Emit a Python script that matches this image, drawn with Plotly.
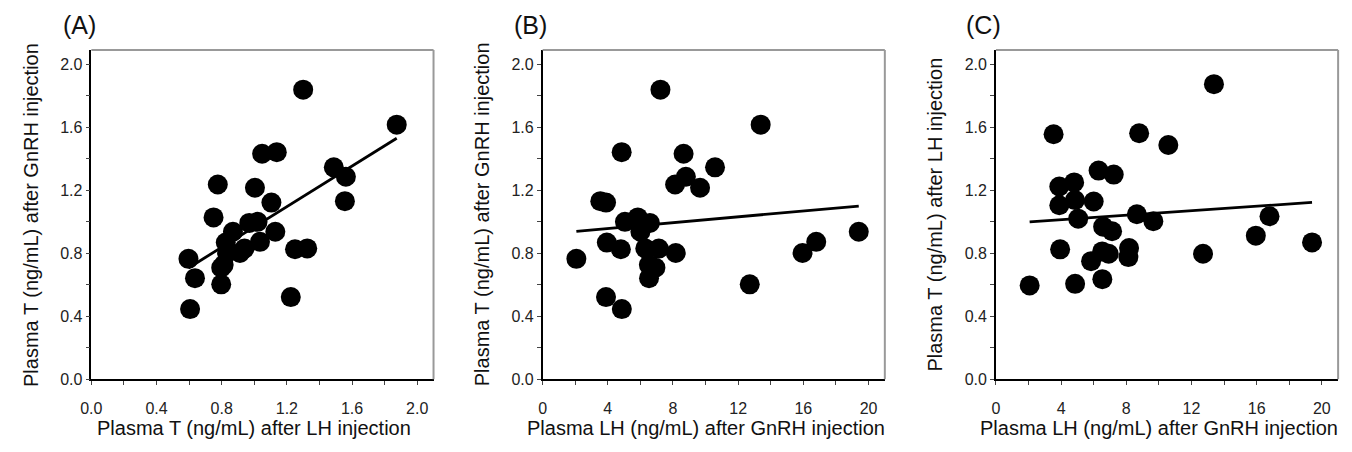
import numpy as np
import plotly.graph_objects as go

# Per-animal values (same animals in all three panels)
lh_after_gnrh = [2.07, 3.54, 3.89, 3.94, 3.89, 4.80, 4.85, 4.86, 5.05, 5.84,
                 6.00, 6.30, 6.53, 6.58, 6.52, 6.92, 7.13, 7.23, 8.13, 8.17,
                 8.65, 8.79, 9.66, 10.58, 12.71, 13.38, 15.95, 16.79, 19.40]
t_after_lh = [0.596, 1.556, 1.105, 0.825, 1.224, 1.250, 1.138, 0.606, 1.020, 0.750,
              1.129, 1.325, 0.636, 0.969, 0.812, 0.797, 0.940, 1.300, 0.776, 0.833,
              1.048, 1.562, 1.004, 1.488, 0.797, 1.874, 0.912, 1.035, 0.869]
t_after_gnrh = [0.765, 1.131, 1.122, 0.868, 0.522, 0.826, 1.442, 0.446, 1.000, 1.028,
                0.937, 0.831, 0.642, 0.993, 0.727, 0.709, 0.830, 1.839, 1.237, 0.802,
                1.432, 1.286, 1.216, 1.346, 0.603, 1.617, 0.802, 0.873, 0.937]

panel_labels = ["(A)", "(B)", "(C)"]
x_titles = ["Plasma T (ng/mL) after LH injection",
            "Plasma LH (ng/mL) after GnRH injection",
            "Plasma LH (ng/mL) after GnRH injection"]
y_titles = ["Plasma T (ng/mL) after GnRH injection",
            "Plasma T (ng/mL) after GnRH injection",
            "Plasma T (ng/mL) after LH injection"]

panels = [
    (t_after_lh, t_after_gnrh),
    (lh_after_gnrh, t_after_gnrh),
    (lh_after_gnrh, t_after_lh),
]

W, H = 1352, 452
x_px = [(81, 426), (536, 881), (993, 1338)]
y_px = (51, 387)
x_ranges = [[0, 2.1], [0, 21], [0, 21]]
x_dtick = [0.4, 4, 4]
x_minor = [0.2, 2, 2]
x_fmt = [".1f", "d", "d"]
x_title_center = [1.0, 10, 10]

FONT = "Arial, Liberation Sans, sans-serif"

fig = go.Figure()
layout = dict(width=W, height=H, margin=dict(l=0, r=0, t=0, b=0),
              paper_bgcolor="white", plot_bgcolor="white", showlegend=False)
annotations = []
shapes = []

for i, (xs, ys) in enumerate(panels):
    n = "" if i == 0 else str(i + 1)
    xa, ya = "x" + n, "y" + n
    xs_a = np.array(xs)
    ys_a = np.array(ys)
    fig.add_trace(go.Scatter(x=xs_a, y=ys_a, mode="markers", xaxis=xa, yaxis=ya,
                             marker=dict(size=20, color="black", line=dict(width=0))))
    slope, intercept = np.polyfit(xs_a, ys_a, 1)
    lx = np.array([xs_a.min(), xs_a.max()])
    fig.add_trace(go.Scatter(x=lx, y=slope * lx + intercept, mode="lines",
                             xaxis=xa, yaxis=ya, line=dict(color="black", width=2.8)))

    d0, d1 = x_px[i][0] / W, x_px[i][1] / W
    yd0, yd1 = (H - y_px[1]) / H, (H - y_px[0]) / H
    layout["xaxis" + n] = dict(
        domain=[d0, d1], range=x_ranges[i], anchor=ya, dtick=x_dtick[i], tick0=0,
        tickformat=x_fmt[i], showgrid=False, zeroline=False, showline=True,
        linecolor="black", linewidth=1.5, ticks="outside", ticklen=4, tickwidth=1,
        tickcolor="#444", ticklabelstandoff=10,
        minor=dict(dtick=x_minor[i], ticks="outside", ticklen=4, tickcolor="#444", showgrid=False),
        tickfont=dict(family=FONT, size=16, color="#222"))
    layout["yaxis" + n] = dict(
        domain=[yd0, yd1], range=[0, 2.091], anchor=xa, dtick=0.4, tick0=0,
        tickformat=".1f", showgrid=False, zeroline=False, showline=True,
        linecolor="black", linewidth=1.5, ticks="outside", ticklen=4, tickwidth=1,
        tickcolor="#444",
        minor=dict(dtick=0.2, ticks="outside", ticklen=4, tickcolor="#444", showgrid=False),
        tickfont=dict(family=FONT, size=16, color="#222"))

    # gray top/right frame
    shapes.append(dict(type="line", xref=xa + " domain", yref=ya + " domain",
                       x0=0, x1=1, y0=1, y1=1, line=dict(color="#999", width=2)))
    shapes.append(dict(type="line", xref=xa + " domain", yref=ya + " domain",
                       x0=1, x1=1, y0=0, y1=1, line=dict(color="#999", width=2)))

    annotations.append(dict(text=x_titles[i], xref=xa, yref="paper",
                            x=x_title_center[i], y=(H - 437) / H, xanchor="center",
                            yanchor="middle", showarrow=False,
                            font=dict(family=FONT, size=20, color="#111")))
    annotations.append(dict(text=y_titles[i], xref=xa + " domain", yref=ya + " domain",
                            x=0, xshift=-61, y=0.5, xanchor="center", yanchor="middle",
                            textangle=-90, showarrow=False,
                            font=dict(family=FONT, size=20, color="#111")))
    annotations.append(dict(text=panel_labels[i], xref=xa + " domain", yref="paper",
                            x=0, xshift=-12, y=(H - 26) / H, xanchor="center",
                            yanchor="middle", showarrow=False,
                            font=dict(family=FONT, size=25, color="#111")))

layout["annotations"] = annotations
layout["shapes"] = shapes
fig.update_layout(**layout)
fig.write_html("out.html", config={"displayModeBar": False},
               post_script="document.body.style.margin='0';document.body.style.overflow='hidden';")
